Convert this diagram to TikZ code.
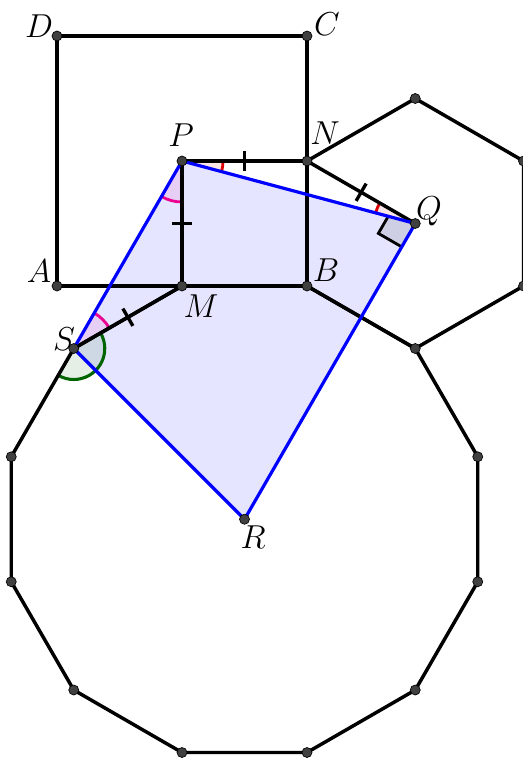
\documentclass[tikz,border=0pt]{standalone}
\usetikzlibrary{calc}
\definecolor{ptgray}{RGB}{64,64,64}
\definecolor{angred}{RGB}{220,0,0}
\definecolor{angpink}{RGB}{235,0,145}
\definecolor{anggreen}{RGB}{0,100,0}
\begin{document}
\begin{tikzpicture}[x=0.75pt,y=0.75pt,yscale=-1,xscale=1,
  edge/.style={line width=2.6pt,line join=round},
  quadline/.style={draw={rgb,255:red,0;green,0;blue,255},line width=2.4pt,line join=round},
  quadfill/.style={fill={rgb,255:red,0;green,0;blue,255},fill opacity=0.1},
  tickmark/.style={line width=2.5pt},
  dot/.style={fill=ptgray,draw=black,line width=0.5pt},
  lbl/.style={font=\fontsize{24}{28}\selectfont,inner sep=0pt}]
\useasboundingbox (0,0) rectangle (523,758);

% points
\coordinate (A) at (57,286);
\coordinate (B) at (307,286);
\coordinate (C) at (307,36);
\coordinate (D) at (57,36);
\coordinate (M) at (182,286);
\coordinate (N) at (307,161);
\coordinate (P) at (182,161);
\coordinate (Q) at (415.25,223.5);
\coordinate (R) at (244.5,519.25);
\coordinate (S) at (73.75,348.5);
% hexagon
\coordinate (h1) at (415.25,348.5);
\coordinate (h2) at (523.5,286);
\coordinate (h3) at (523.5,161);
\coordinate (h4) at (415.25,98.5);
% dodecagon
\coordinate (d2) at (477.75,456.75);
\coordinate (d3) at (477.75,581.75);
\coordinate (d4) at (415.25,690);
\coordinate (d5) at (307,752.5);
\coordinate (d6) at (182,752.5);
\coordinate (d7) at (73.75,690);
\coordinate (d8) at (11.25,581.75);
\coordinate (d9) at (11.25,456.75);

%Shape: Quadrilateral PQRS (fill)
\fill [quadfill] (P) -- (Q) -- (R) -- (S) -- cycle ;

%Angle NPQ
\fill [angred,fill opacity=0.1] (P) -- ++(0:41) arc [start angle=0,end angle=15,radius=41] -- cycle ;
\draw [angred,line width=2.1pt] ($(P)+(0:41)$) arc [start angle=0,end angle=15,radius=41] ;
%Angle PQN
\fill [angred,fill opacity=0.1] (Q) -- ++(195:41) arc [start angle=195,end angle=210,radius=41] -- cycle ;
\draw [angred,line width=2.1pt] ($(Q)+(195:41)$) arc [start angle=195,end angle=210,radius=41] ;
%Angle MPS
\fill [angpink,fill opacity=0.1] (P) -- ++(90:41) arc [start angle=90,end angle=120,radius=41] -- cycle ;
\draw [angpink,line width=2.1pt] ($(P)+(90:41)$) arc [start angle=90,end angle=120,radius=41] ;
%Angle PSM
\fill [angpink,fill opacity=0.1] (S) -- ++(-60:41) arc [start angle=-60,end angle=-30,radius=41] -- cycle ;
\draw [angpink,line width=2.1pt] ($(S)+(-60:41)$) arc [start angle=-60,end angle=-30,radius=41] ;
%Angle of the dodecagon at S
\fill [anggreen,fill opacity=0.1] (S) -- ++(-30:31) arc [start angle=-30,end angle=120,radius=31] -- cycle ;
\draw [anggreen,line width=2.3pt] ($(S)+(-30:31)$) arc [start angle=-30,end angle=120,radius=31] ;
%Right angle NQR
\coordinate (qa) at ($(Q)+(120:27)$);
\coordinate (qb) at ($(Q)+(120:27)+(210:27)$);
\coordinate (qc) at ($(Q)+(210:27)$);
\begin{scope}
\clip (P) -- (Q) -- (R) -- (S) -- cycle ;
\fill [black,fill opacity=0.1] (Q) -- (qa) -- (qb) -- (qc) -- cycle ;
\draw [black,line width=2.1pt] (qa) -- (qb) -- (qc) ;
\end{scope}

%Shape: Square ABCD
\draw [edge] (A) -- (B) -- (C) -- (D) -- cycle ;
%Straight Lines
\draw [edge] (P) -- (N) ;
\draw [edge] (P) -- (M) ;
\draw [edge] (N) -- (Q) ;
\draw [edge] (M) -- (S) ;
%Shape: Hexagon
\draw [edge] (N) -- (B) -- (h1) -- (h2) -- (h3) -- (h4) -- cycle ;
%Shape: Dodecagon
\draw [edge] (M) -- (B) -- (h1) -- (d2) -- (d3) -- (d4) -- (d5) -- (d6) -- (d7) -- (d8) -- (d9) -- (S) -- cycle ;
%Shape: Quadrilateral PQRS
\draw [quadline] (P) -- (Q) -- (R) -- (S) -- cycle ;

%Tick marks
\draw [tickmark] ($(P)!0.5!(N)!7.5pt!90:(N)$) -- ($(P)!0.5!(N)!7.5pt!-90:(N)$) ;
\draw [tickmark] ($(N)!0.5!(Q)!7.5pt!90:(Q)$) -- ($(N)!0.5!(Q)!7.5pt!-90:(Q)$) ;
\draw [tickmark] ($(P)!0.5!(M)!7.5pt!90:(M)$) -- ($(P)!0.5!(M)!7.5pt!-90:(M)$) ;
\draw [tickmark] ($(M)!0.5!(S)!7.5pt!90:(S)$) -- ($(M)!0.5!(S)!7.5pt!-90:(S)$) ;

%Points
\foreach \p in {A,B,C,D,M,N,P,Q,R,S,h1,h2,h3,h4,d2,d3,d4,d5,d6,d7,d8,d9}
  \draw [dot] (\p) circle [radius=5] ;

% Text Node
\node [lbl] (lblA) at (39,271) {$A$};
% Text Node
\node [lbl] (lblB) at (326,270) {$B$};
% Text Node
\node [lbl] (lblC) at (327,24) {$C$};
% Text Node
\node [lbl] (lblD) at (39,26) {$D$};
% Text Node
\node [lbl] (lblM) at (201,306) {$M$};
% Text Node
\node [lbl] (lblN) at (325,133) {$N$};
% Text Node
\node [lbl] (lblP) at (181,135) {$P$};
% Text Node
\node [lbl] (lblQ) at (429,211) {$Q$};
% Text Node
\node [lbl] (lblR) at (253,537) {$R$};
% Text Node
\node [lbl] (lblS) at (64,339) {$S$};

\end{tikzpicture}
\end{document}
